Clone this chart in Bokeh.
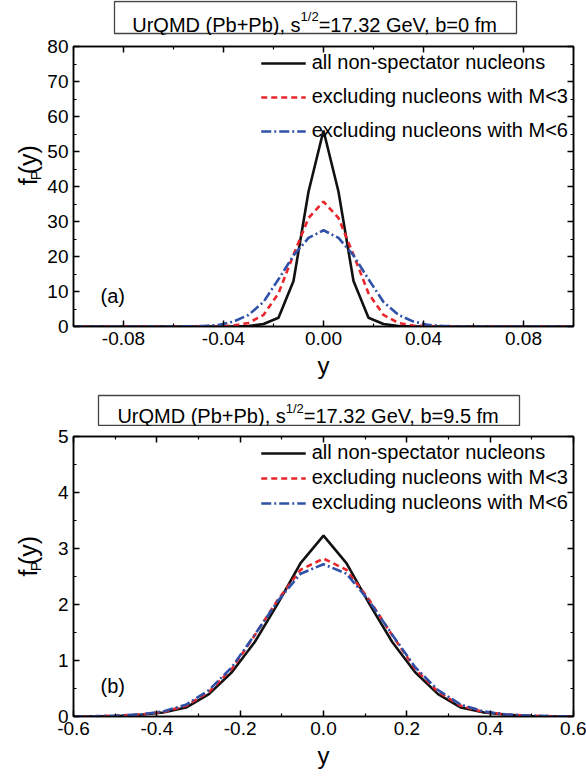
import math
from bokeh.plotting import figure
from bokeh.models import (Range1d, FixedTicker, PrintfTickFormatter, LinearAxis,
                          Label, Legend, LegendItem)
from bokeh.layouts import column, row
from bokeh.core.properties import value
from bokeh.embed import file_html
from bokeh.resources import INLINE

# ---------------- data ----------------
# panel (a): b = 0 fm
xa = [-0.1, -0.06, -0.054, -0.048, -0.042, -0.036, -0.03, -0.024, -0.018, -0.012, -0.006, 0.0,
      0.006, 0.012, 0.018, 0.024, 0.03, 0.036, 0.042, 0.048, 0.054, 0.06, 0.1]
fa_all = [0, 0, 0, 0, 0, 0, 0.1, 0.7, 2.5, 13.0, 38.5, 56.0,
          38.5, 13.0, 2.5, 0.7, 0.1, 0, 0, 0, 0, 0, 0]
fa_m3 = [0, 0, 0, 0, 0.05, 0.25, 1.0, 3.3, 9.5, 20.5, 31.0, 35.7,
         31.0, 20.5, 9.5, 3.3, 1.0, 0.25, 0.05, 0, 0, 0, 0]
fa_m6 = [0, 0, 0.05, 0.15, 0.45, 1.4, 3.3, 7.0, 13.5, 20.3, 25.3, 27.5,
         25.3, 20.3, 13.5, 7.0, 3.3, 1.4, 0.45, 0.15, 0.05, 0, 0]

# panel (b): b = 9.5 fm
xb = [-0.6, -0.55, -0.495, -0.44, -0.385, -0.33, -0.275, -0.22, -0.165, -0.11, -0.055, 0.0,
      0.055, 0.11, 0.165, 0.22, 0.275, 0.33, 0.385, 0.44, 0.495, 0.55, 0.6]
fb_all = [0, 0.005, 0.01, 0.03, 0.07, 0.16, 0.40, 0.79, 1.33, 2.01, 2.74, 3.23,
          2.74, 2.01, 1.33, 0.79, 0.40, 0.16, 0.07, 0.03, 0.01, 0.005, 0]
fb_m3 = [0, 0.005, 0.015, 0.035, 0.08, 0.19, 0.44, 0.85, 1.45, 2.08, 2.62, 2.82,
         2.62, 2.08, 1.45, 0.85, 0.44, 0.19, 0.08, 0.035, 0.015, 0.005, 0]
fb_m6 = [0, 0.005, 0.015, 0.035, 0.09, 0.21, 0.47, 0.88, 1.46, 2.06, 2.55, 2.72,
         2.55, 2.06, 1.46, 0.88, 0.47, 0.21, 0.09, 0.035, 0.015, 0.005, 0]

series_labels = ["all non-spectator nucleons",
                 "excluding nucleons with M<3",
                 "excluding nucleons with M<6"]

xa_major = [-0.08, -0.04, 0.0, 0.04, 0.08]
xa_minor = [-0.1, -0.06, -0.02, 0.02, 0.06, 0.1]
ya_major = [0, 10, 20, 30, 40, 50, 60, 70, 80]
ya_minor = [5, 15, 25, 35, 45, 55, 65, 75]
xb_major = [-0.6, -0.4, -0.2, 0.0, 0.2, 0.4, 0.6]
xb_minor = [-0.5, -0.3, -0.1, 0.1, 0.3, 0.5]
yb_major = [0, 1, 2, 3, 4, 5]
yb_minor = [0.5, 1.5, 2.5, 3.5, 4.5]

title_a = ("UrQMD (Pb+Pb), s", "1/2", "=17.32 GeV, b=0 fm")
title_b = ("UrQMD (Pb+Pb), s", "1/2", "=17.32 GeV, b=9.5 fm")

# ---------------- style ----------------
FONT = "Liberation Sans"
BLACK = "#111111"
RED = "#e8262b"
BLUE = "#2f52a8"
W = 586
LW = 44  # width of the y-label strip

ARIAL = {' ': 278, '(': 333, ')': 333, '+': 584, ',': 278, '-': 333, '.': 278, '/': 278,
         '0': 556, '1': 556, '2': 556, '3': 556, '4': 556, '5': 556, '6': 556, '7': 556,
         '8': 556, '9': 556, '=': 584, 'D': 722, 'G': 778, 'M': 833, 'P': 667, 'Q': 778,
         'U': 722, 'V': 667, 'b': 556, 'e': 556, 'f': 278, 'm': 833, 'r': 333, 's': 500,
         'y': 500}


def tw(s, size):
    return sum(ARIAL.get(c, 556) for c in s) / 1000.0 * size


def aux_fig(w, h):
    f = figure(width=w, height=h, x_range=Range1d(0, w), y_range=Range1d(0, h),
               output_backend="svg", toolbar_location=None,
               x_axis_type=None, y_axis_type=None, min_border=0)
    f.outline_line_color = None
    f.background_fill_color = "white"
    f.border_fill_color = "white"
    return f


def title_fig(h, parts, box, base):
    # box = (left, right, top_from_top, bottom_from_top); base = baseline from top
    f = aux_fig(W, h)
    bl, br, bt, bb = box
    f.quad(left=[bl], right=[br], top=[h - bt], bottom=[h - bb],
           fill_color="white", line_color="#444444", line_width=1.3)
    w1 = tw(parts[0], 20)
    w2 = tw(parts[1], 13)
    w3 = tw(parts[2], 20)
    x0 = (bl + br) / 2 - (w1 + w2 + w3) / 2
    yb = h - base
    f.text(x=[x0], y=[yb], text=[parts[0]], text_font=value(FONT), text_font_size="20px",
           text_baseline="alphabetic", text_align="left", text_color="black")
    f.text(x=[x0 + w1], y=[yb + 8], text=[parts[1]], text_font=value(FONT),
           text_font_size="13px", text_baseline="alphabetic", text_align="left",
           text_color="black")
    f.text(x=[x0 + w1 + w2], y=[yb], text=[parts[2]], text_font=value(FONT),
           text_font_size="20px", text_baseline="alphabetic", text_align="left",
           text_color="black")
    return f


def ylab_fig(h, center):
    # center measured from the top of this figure; parts centred individually
    f = aux_fig(LW, h)
    wf, wp, wy = tw("f", 25), tw("P", 15), tw("(y)", 25)
    total = wf + wp + wy
    start = h - center - total / 2          # data y where "f" begins (text runs upward)
    parts = [("f", 25, 27, start + wf / 2),
             ("P", 15, 34.5, start + wf + wp / 2),
             ("(y)", 25, 27, start + wf + wp + wy / 2)]
    for txt, size, bx, cy in parts:
        f.text(x=[bx], y=[cy], text=[txt], angle=math.pi / 2, text_font=value(FONT),
               text_font_size=f"{size}px", text_baseline="alphabetic",
               text_align="center", text_color="black")
    return f


def style_axis(ax, major, minor, fmt, labels=True):
    ax.ticker = FixedTicker(ticks=major, minor_ticks=minor)
    ax.formatter = PrintfTickFormatter(format=fmt)
    ax.major_tick_in = 6
    ax.major_tick_out = 0
    ax.minor_tick_in = 3
    ax.minor_tick_out = 0
    ax.axis_line_width = 1.5
    ax.axis_line_color = "black"
    ax.major_tick_line_width = 1.5
    ax.minor_tick_line_width = 1.2
    ax.major_tick_line_color = "black"
    ax.minor_tick_line_color = "black"
    ax.major_label_text_font = FONT
    ax.major_label_text_font_size = "19px"
    ax.major_label_text_color = "black"
    ax.major_label_standoff = 5
    if not labels:
        ax.major_label_text_font_size = "0px"
        ax.major_label_text_alpha = 0


def make_panel(x, ys, xr, yr, xmaj, xmin, ymaj, ymin, xfmt, height, top, tag, leg_spacing):
    p = figure(width=W - LW, height=height, output_backend="svg", toolbar_location=None,
               x_range=Range1d(*xr), y_range=Range1d(*yr),
               min_border_left=73 - LW, min_border_right=13, min_border_top=top,
               min_border_bottom=height - top - 280)
    p.xgrid.visible = False
    p.ygrid.visible = False
    p.outline_line_color = "black"
    p.outline_line_width = 1.5
    p.background_fill_color = "white"
    p.border_fill_color = "white"

    style_axis(p.xaxis[0], xmaj, xmin, xfmt)
    style_axis(p.yaxis[0], ymaj, ymin, "%d")
    p.xaxis[0].axis_label = "y"
    p.xaxis[0].axis_label_text_font = FONT
    p.xaxis[0].axis_label_text_font_size = "24px"
    p.xaxis[0].axis_label_text_font_style = "normal"
    p.xaxis[0].axis_label_text_color = "black"
    p.xaxis[0].axis_label_standoff = 4
    top_ax = LinearAxis()
    style_axis(top_ax, xmaj, xmin, xfmt, labels=False)
    right_ax = LinearAxis()
    style_axis(right_ax, ymaj, ymin, "%d", labels=False)
    p.add_layout(top_ax, "above")
    p.add_layout(right_ax, "right")

    r1 = p.line(x, ys[0], line_color=BLACK, line_width=2.6)
    r2 = p.line(x, ys[1], line_color=RED, line_width=2.6, line_dash="6 4")
    r3 = p.line(x, ys[2], line_color=BLUE, line_width=2.6, line_dash="10 3 2 3")

    legend = Legend(items=[LegendItem(label=series_labels[0], renderers=[r1]),
                           LegendItem(label=series_labels[1], renderers=[r2]),
                           LegendItem(label=series_labels[2], renderers=[r3])],
                    location="top_right", border_line_color=None,
                    background_fill_alpha=0, label_text_font=FONT,
                    label_text_font_size="20px", label_text_color="black",
                    glyph_width=45, glyph_height=20, label_height=20,
                    label_standoff=6, spacing=leg_spacing, padding=4, margin=5)
    p.add_layout(legend)

    p.add_layout(Label(x=27, y=31, x_units="screen", y_units="screen", text=tag,
                       text_font=FONT, text_font_size="20px", text_baseline="middle",
                       text_color="black"))
    return p


# layout: title a (35) / row a (355) / title b (36) / row b (350)  -> 776
ta = title_fig(35, title_a, (114, 516, 1, 33), 24)
pa = make_panel(xa, [fa_all, fa_m3, fa_m6], (-0.1, 0.1), (0, 80), xa_major, xa_minor,
                ya_major, ya_minor, "%.2f", 355, 11, "(a)", 11)
la = ylab_fig(355, 11 + 141)
tb = title_fig(36, title_b, (98, 519, 5, 35), 25.5)
pb = make_panel(xb, [fb_all, fb_m3, fb_m6], (-0.6, 0.6), (0, 5), xb_major, xb_minor,
                yb_major, yb_minor, "%.1f", 350, 10, "(b)", 2)
lb = ylab_fig(350, 10 + 141)

layout = column(ta, row(la, pa, spacing=0), tb, row(lb, pb, spacing=0), spacing=0)
open("out.html", "w").write(file_html(layout, INLINE))
